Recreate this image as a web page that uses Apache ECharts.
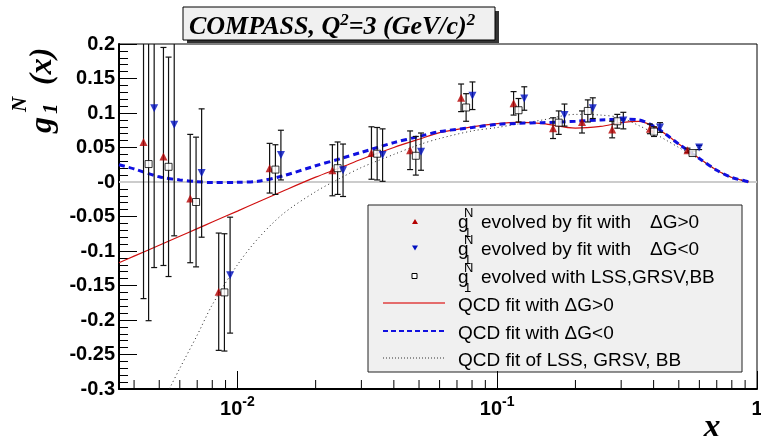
<!DOCTYPE html>
<html>
<head>
<meta charset="utf-8">
<script src="https://cdn.jsdelivr.net/npm/echarts@6/dist/echarts.min.js"></script>
<style>
  html, body { margin: 0; padding: 0; background: #fff; }
  #chart { width: 761px; height: 436px; }
</style>
</head>
<body>
<div id="chart"></div>
<script>
// g1 evolved by fit with dG>0 (red up triangles)
const xUp = [0.00435, 0.00519, 0.00658, 0.00847, 0.0133, 0.0232, 0.0328, 0.0462, 0.0726, 0.1156, 0.164, 0.212, 0.277, 0.387, 0.540];
const gUp = [0.058, 0.037, -0.024, -0.159, 0.020, 0.017, 0.042, 0.046, 0.122, 0.114, 0.078, 0.087, 0.076, 0.077, 0.046];
const eUp = [0.227, 0.158, 0.093, 0.085, 0.036, 0.037, 0.038, 0.028, 0.020, 0.017, 0.015, 0.016, 0.012, 0.007, 0.003];

// g1 evolved by fit with dG<0 (blue down triangles)
const xDown = [0.00478, 0.00571, 0.00728, 0.00937, 0.0147, 0.0255, 0.0362, 0.0509, 0.0803, 0.1271, 0.1815, 0.2333, 0.3058, 0.4232, 0.5988];
const gDown = [0.107, 0.083, 0.013, -0.135, 0.039, 0.017, 0.039, 0.044, 0.125, 0.121, 0.097, 0.107, 0.089, 0.079, 0.050];
const eDown = [0.231, 0.161, 0.093, 0.084, 0.036, 0.038, 0.038, 0.027, 0.020, 0.017, 0.016, 0.015, 0.012, 0.007, 0.003];

// g1 evolved with LSS, GRSV, BB (open squares)
const xLss = [0.00455, 0.00543, 0.00693, 0.00891, 0.0140, 0.0243, 0.0345, 0.0486, 0.0759, 0.1208, 0.1725, 0.2232, 0.2899, 0.4013, 0.5646];
const gLss = [0.026, 0.022, -0.029, -0.160, 0.018, 0.020, 0.041, 0.038, 0.108, 0.104, 0.086, 0.103, 0.088, 0.073, 0.042];
const eLss = [0.227, 0.159, 0.094, 0.085, 0.036, 0.038, 0.038, 0.028, 0.020, 0.017, 0.017, 0.016, 0.010, 0.007, 0.003];

// QCD fit curves
const xFit = [0.0035, 0.004, 0.005, 0.006, 0.007, 0.008, 0.01, 0.012, 0.015, 0.02, 0.025, 0.03, 0.04, 0.05, 0.06, 0.08, 0.1, 0.12, 0.15, 0.2, 0.25, 0.3, 0.35, 0.4, 0.45, 0.5, 0.6, 0.7, 0.8, 0.9, 0.93];
const fitUp = [-0.117, -0.1075, -0.0916, -0.0786, -0.0676, -0.058, -0.0422, -0.029, -0.013, 0.007, 0.021, 0.033, 0.050, 0.062, 0.0715, 0.080, 0.0845, 0.0865, 0.0845, 0.078, 0.0805, 0.086, 0.088, 0.081, 0.068, 0.055, 0.034, 0.017, 0.0065, 0.0015, 0.0003];
const fitDown = [0.025, 0.019, 0.0075, 0.003, 0.0005, -0.0008, -0.0005, 0.001, 0.009, 0.0235, 0.034, 0.043, 0.057, 0.066, 0.073, 0.079, 0.0835, 0.085, 0.086, 0.088, 0.090, 0.091, 0.090, 0.081, 0.068, 0.055, 0.034, 0.017, 0.0065, 0.0015, 0.0003];

const xLssFit = [0.0053, 0.0055, 0.006, 0.007, 0.008, 0.01, 0.012, 0.015, 0.02, 0.025, 0.03, 0.04, 0.05, 0.06, 0.08, 0.1, 0.12, 0.15, 0.2, 0.25, 0.3, 0.35, 0.4, 0.45, 0.5, 0.6, 0.7, 0.8, 0.9, 0.93];
const fitLss = [-0.31, -0.298, -0.27, -0.222, -0.178, -0.12, -0.082, -0.046, -0.014, 0.006, 0.021, 0.040, 0.054, 0.063, 0.074, 0.079, 0.084, 0.090, 0.098, 0.097, 0.093, 0.082, 0.071, 0.060, 0.050, 0.033, 0.017, 0.0065, 0.0015, 0.0003];

const xMin = 0.0035, xMax = 1;
const yMin = -0.3, yMax = 0.2;

// minor ticks of the log x axis (2..9 per decade)
const minorTicks = [];
for (let k = -3; k <= -1; k++) {
  for (let m = 2; m <= 9; m++) {
    const v = m * Math.pow(10, k);
    if (v > xMin && v < xMax) minorTicks.push([v, yMin]);
  }
}

const zip = (xs, ys) => xs.map((x, i) => [x, ys[i]]);
const zip3 = (xs, ys, es) => xs.map((x, i) => [x, ys[i], es[i]]);

const SANS = '"Liberation Sans", Arial, sans-serif';
const SERIF = '"Liberation Serif", "Times New Roman", serif';

function renderErr(params, api) {
  const x = api.value(0), y = api.value(1), e = api.value(2);
  const top = api.coord([x, y + e]);
  const bot = api.coord([x, y - e]);
  const cap = 3;
  const st = { stroke: '#111', lineWidth: 1.2 };
  return {
    type: 'group',
    children: [
      { type: 'line', shape: { x1: top[0], y1: top[1], x2: bot[0], y2: bot[1] }, style: st },
      { type: 'line', shape: { x1: top[0] - cap, y1: top[1], x2: top[0] + cap, y2: top[1] }, style: st },
      { type: 'line', shape: { x1: bot[0] - cap, y1: bot[1], x2: bot[0] + cap, y2: bot[1] }, style: st }
    ]
  };
}

function renderMinor(params, api) {
  const p = api.coord([api.value(0), api.value(1)]);
  return {
    type: 'line',
    shape: { x1: p[0], y1: p[1], x2: p[0], y2: p[1] - 9 },
    style: { stroke: '#000', lineWidth: 1 }
  };
}

const chart = echarts.init(document.getElementById('chart'), null, { renderer: 'canvas' });

// legend (drawn like the ROOT TLegend)
const rows = [223, 250, 278, 306, 334, 361];
const legFont = '19px ' + SANS;
const supFont = '13px ' + SANS;
const legend = [
  { type: 'rect', shape: { x: 368, y: 205, width: 374, height: 167 }, style: { fill: '#f0f0f0', stroke: '#222', lineWidth: 1 } },
  { type: 'polygon', shape: { points: [[412, 224], [418, 224], [415, 219]] }, style: { fill: '#b40000' } },
  { type: 'polygon', shape: { points: [[412, 245.5], [418, 245.5], [415, 250.5]] }, style: { fill: '#0010c0' } },
  { type: 'rect', shape: { x: 412, y: 273.5, width: 5, height: 5 }, style: { fill: '#fff', stroke: '#000', lineWidth: 1 } },
  { type: 'line', shape: { x1: 383, y1: rows[3] - 3, x2: 445, y2: rows[3] - 3 }, style: { stroke: '#e04040', lineWidth: 1.5 } },
  { type: 'line', shape: { x1: 383, y1: rows[4] - 3, x2: 445, y2: rows[4] - 3 }, style: { stroke: '#1010e0', lineWidth: 2, lineDash: [5, 3] } },
  { type: 'line', shape: { x1: 383, y1: rows[5] - 3, x2: 445, y2: rows[5] - 3 }, style: { stroke: '#333', lineWidth: 1, lineDash: [1, 2] } }
];
const gTexts = ['evolved by fit with', 'evolved by fit with', 'evolved with LSS,GRSV,BB'];
gTexts.forEach((t, i) => {
  const y = rows[i];
  legend.push({ type: 'text', x: 458, y: y, style: { text: 'g', font: legFont, fill: '#000', verticalAlign: 'middle' } });
  legend.push({ type: 'text', x: 464, y: y - 10, style: { text: 'N', font: supFont, fill: '#000', verticalAlign: 'middle' } });
  legend.push({ type: 'text', x: 464, y: y + 10, style: { text: '1', font: supFont, fill: '#000', verticalAlign: 'middle' } });
  legend.push({ type: 'text', x: 481, y: y, style: { text: t, font: legFont, fill: '#000', verticalAlign: 'middle' } });
});
legend.push({ type: 'text', x: 650, y: rows[0], style: { text: '\u0394G>0', font: legFont, fill: '#000', verticalAlign: 'middle' } });
legend.push({ type: 'text', x: 650, y: rows[1], style: { text: '\u0394G<0', font: legFont, fill: '#000', verticalAlign: 'middle' } });
['QCD fit with \u0394G>0', 'QCD fit with \u0394G<0', 'QCD fit of LSS, GRSV, BB'].forEach((t, i) => {
  legend.push({ type: 'text', x: 458, y: rows[3 + i], style: { text: t, font: legFont, fill: '#000', verticalAlign: 'middle' } });
});

const option = {
  backgroundColor: '#fff',
  animation: false,
  grid: {
    left: 119, right: 4, top: 44, bottom: 47,
    show: true, borderColor: '#000', borderWidth: 1, backgroundColor: 'transparent',
    containLabel: false, outerBoundsMode: 'none'
  },
  xAxis: {
    type: 'log', logBase: 10, min: xMin, max: xMax,
    axisLine: { onZero: false, lineStyle: { color: '#000', width: 2 } },
    axisTick: { inside: true, length: 18, lineStyle: { color: '#000', width: 1 } },
    splitLine: { show: false },
    axisLabel: {
      margin: 6,
      color: '#000',
      formatter: v => {
        const l = Math.log10(v);
        const p = Math.round(l);
        if (Math.abs(l - p) > 1e-6) return '';
        return p === 0 ? '{b|1}' : '{b|10}{s|' + p + '}';
      },
      rich: {
        b: { fontFamily: SANS, fontWeight: 'bold', fontSize: 20, lineHeight: 24, verticalAlign: 'bottom', color: '#000' },
        s: { fontFamily: SANS, fontWeight: 'bold', fontSize: 14, lineHeight: 14, verticalAlign: 'top', color: '#000' }
      }
    }
  },
  yAxis: {
    type: 'value', min: yMin, max: yMax, interval: 0.05,
    axisLine: { onZero: false, lineStyle: { color: '#000', width: 2 } },
    axisTick: { inside: true, length: 18, lineStyle: { color: '#000', width: 1 } },
    minorTick: { show: true, splitNumber: 5, length: 9, lineStyle: { color: '#000', width: 1 } },
    splitLine: { show: false },
    axisLabel: {
      margin: 4,
      color: '#000', fontFamily: SANS, fontWeight: 'bold', fontSize: 20,
      formatter: v => Math.abs(v) < 1e-9 ? '-0' : String(parseFloat(v.toFixed(2)))
    }
  },
  series: [
    {
      name: 'QCD fit with dG>0', type: 'line', data: zip(xFit, fitUp),
      showSymbol: false, smooth: 0.3, z: 2,
      lineStyle: { color: '#d01010', width: 1.2 },
      markLine: {
        silent: true, symbol: 'none', z: 1, label: { show: false },
        lineStyle: { color: '#cccccc', width: 2, type: 'solid' },
        data: [{ yAxis: 0 }]
      }
    },
    {
      name: 'QCD fit with dG<0', type: 'line', data: zip(xFit, fitDown),
      showSymbol: false, smooth: 0.3, z: 3,
      lineStyle: { color: '#1010e0', width: 3, type: [6, 4] }
    },
    {
      name: 'QCD fit of LSS, GRSV, BB', type: 'line', data: zip(xLssFit, fitLss),
      showSymbol: false, smooth: 0.3, z: 2,
      lineStyle: { color: '#222', width: 1, type: [1, 3] }
    },
    { type: 'custom', renderItem: renderErr, data: zip3(xUp, gUp, eUp), clip: true, z: 4, silent: true },
    { type: 'custom', renderItem: renderErr, data: zip3(xLss, gLss, eLss), clip: true, z: 4, silent: true },
    { type: 'custom', renderItem: renderErr, data: zip3(xDown, gDown, eDown), clip: true, z: 4, silent: true },
    {
      name: 'dG>0', type: 'scatter', data: zip(xUp, gUp), symbol: 'triangle', symbolSize: 8, z: 5,
      itemStyle: { color: '#b40000' }
    },
    {
      name: 'LSS', type: 'scatter', data: zip(xLss, gLss), symbol: 'rect', symbolSize: 7, z: 5,
      itemStyle: { color: '#fff', borderColor: '#000', borderWidth: 1 }
    },
    {
      name: 'dG<0', type: 'scatter', data: zip(xDown, gDown), symbol: 'triangle', symbolRotate: 180, symbolSize: 8, z: 5,
      itemStyle: { color: '#0010c0' }
    },
    { type: 'custom', renderItem: renderMinor, data: minorTicks, clip: false, z: 6, silent: true }
  ],
  graphic: [
    // title box with shadow
    { type: 'rect', shape: { x: 187, y: 11, width: 312, height: 32 }, style: { fill: '#333' }, z: 10 },
    { type: 'rect', shape: { x: 183, y: 7, width: 312, height: 33 }, style: { fill: '#f0f0f0', stroke: '#000', lineWidth: 1 }, z: 11 },
    {
      type: 'text', x: 189, y: 26, z: 12,
      style: {
        text: '{t|COMPASS, Q}{s|2}{t|=3 (GeV/c)}{s|2}',
        verticalAlign: 'middle', align: 'left',
        rich: {
          t: { font: 'italic bold 26px ' + SERIF, lineHeight: 28, verticalAlign: 'bottom', fill: '#000' },
          s: { font: 'italic bold 17px ' + SERIF, lineHeight: 16, verticalAlign: 'top', fill: '#000' }
        }
      }
    },
    // y axis title  g_1^N(x)
    {
      type: 'group', x: 43, y: 133, rotation: Math.PI / 2, z: 12,
      children: [
        { type: 'text', x: 0, y: 0, style: { text: 'g', font: 'italic bold 32px ' + SERIF, fill: '#000', verticalAlign: 'middle' } },
        { type: 'text', x: 19, y: 9, style: { text: '1', font: 'italic bold 21px ' + SERIF, fill: '#000', verticalAlign: 'middle' } },
        { type: 'text', x: 21, y: -22, style: { text: 'N', font: 'italic bold 21px ' + SERIF, fill: '#000', verticalAlign: 'middle' } },
        { type: 'text', x: 48, y: 0, style: { text: '(x)', font: 'italic bold 32px ' + SERIF, fill: '#000', verticalAlign: 'middle' } }
      ]
    },
    // x axis title
    { type: 'text', x: 712, y: 445, z: 12, style: { text: 'x', font: 'italic bold 34px ' + SERIF, fill: '#000', align: 'center', verticalAlign: 'bottom' } },
    { type: 'group', z: 20, children: legend }
  ]
};

chart.setOption(option);
</script>
</body>
</html>
